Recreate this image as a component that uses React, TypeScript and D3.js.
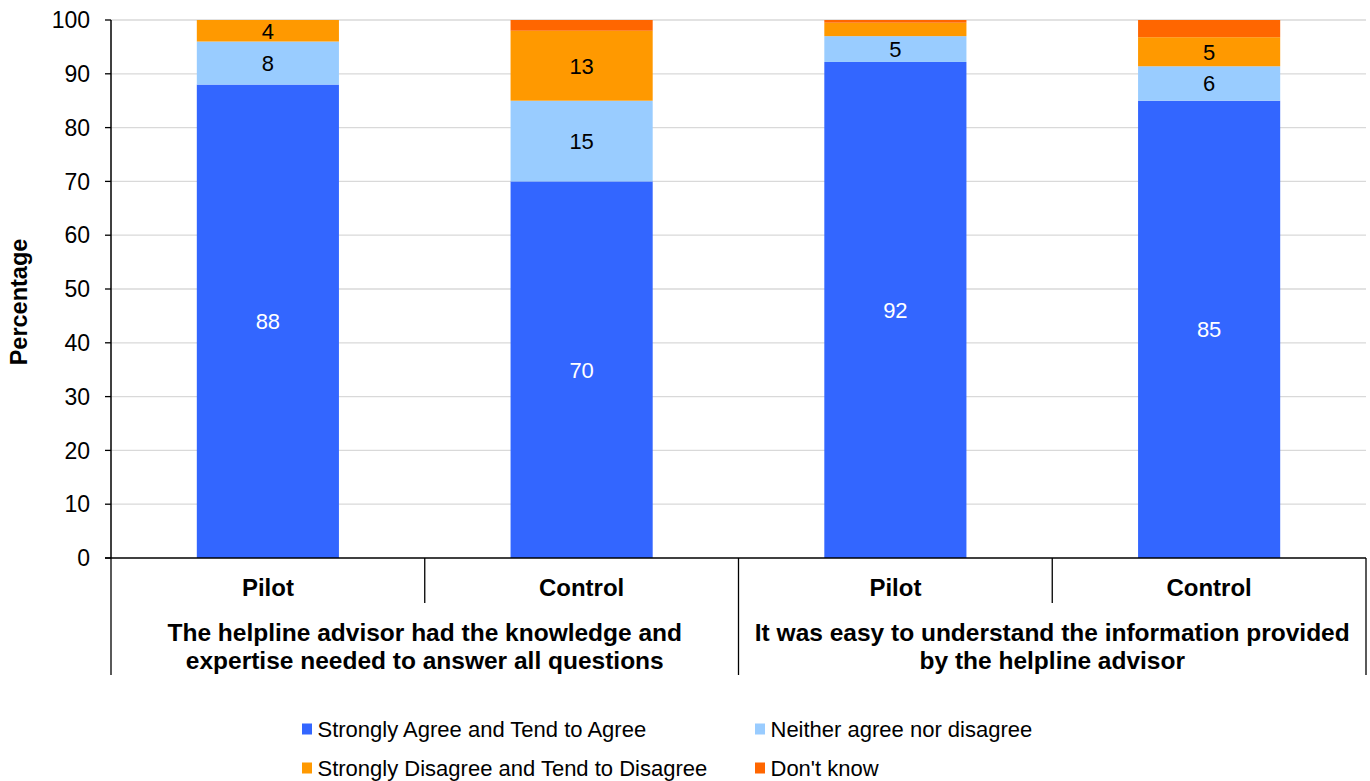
import React from "react";
import * as d3 from "d3";

const seriesNames = [
  "Strongly Agree and Tend to Agree",
  "Neither agree nor disagree",
  "Strongly Disagree and Tend to Disagree",
  "Don't know",
];
const seriesColors = ["#3366FF", "#99CCFF", "#FF9900", "#FF6600"];
const bars = ["Pilot", "Control", "Pilot", "Control"];
const groups = [
  ["The helpline advisor had the knowledge and", "expertise needed to answer all questions"],
  ["It was easy to understand the information provided", "by the helpline advisor"],
];
const agree = [88, 70, 92.2, 85];
const neither = [8, 15, 4.8, 6.4];
const disagree = [4, 13, 2.5, 5.4];
const dontKnow = [0, 2, 0.5, 3.2];
const yTicks = [0, 10, 20, 30, 40, 50, 60, 70, 80, 90, 100];

const W = 1370;
const H = 781;
const left = 111;
const right = 1366;
const top = 20;
const bottom = 558;
const font = "'Liberation Sans', Arial, sans-serif";

export default function App() {
  const series = [agree, neither, disagree, dontKnow];
  const y = d3.scaleLinear().domain([0, 100]).range([bottom, top]);
  const x = d3
    .scaleBand<number>()
    .domain(bars.map((_, i) => i))
    .range([left, right])
    .paddingInner(0.547)
    .paddingOuter(0.2735);
  const step = x.step();
  const rows = bars.map((_, i) => {
    const r: any = { idx: i };
    series.forEach((s, k) => (r["s" + k] = s[i]));
    return r;
  });
  const stack = d3.stack<any>().keys(series.map((_, k) => "s" + k))(rows);

  return (
    <div style={{ position: "absolute", left: 0, top: 0 }}>
      <svg width={W} height={H} style={{ display: "block", fontFamily: font }}>
        {yTicks.map((t) => (
          <g key={t}>
            {t > 0 && (
              <line x1={left} x2={right} y1={y(t)} y2={y(t)} stroke="#D9D9D9" strokeWidth={1.3} />
            )}
            <line x1={left - 6} x2={left} y1={y(t)} y2={y(t)} stroke="#000" strokeWidth={1.3} />
            <text x={90} y={y(t)} dy="0.36em" textAnchor="end" fontSize={23} fill="#000">
              {t}
            </text>
          </g>
        ))}
        {stack.map((layer, k) =>
          layer.map((d, i) => {
            const v = d[1] - d[0];
            if (v <= 0) return null;
            const bx = x(i)!;
            const y0 = y(d[0]);
            const y1 = y(d[1]);
            return (
              <g key={k + "-" + i}>
                <rect x={bx} y={y1} width={x.bandwidth()} height={y0 - y1} fill={seriesColors[k]} />
                {v >= 3.5 && (
                  <text
                    x={bx + x.bandwidth() / 2}
                    y={(y0 + y1) / 2}
                    dy="0.36em"
                    textAnchor="middle"
                    fontSize={22}
                    fill={k === 0 ? "#fff" : "#000"}
                  >
                    {Math.round(v)}
                  </text>
                )}
              </g>
            );
          })
        )}
        <line x1={left} x2={left} y1={top} y2={bottom} stroke="#000" strokeWidth={1.5} />
        <line x1={left - 6} x2={right} y1={bottom} y2={bottom} stroke="#000" strokeWidth={1.5} />
        {[0, 1, 2, 3, 4].map((j) => {
          const xx = left + j * step;
          const long = j % 2 === 0;
          return (
            <line
              key={"sep" + j}
              x1={xx}
              x2={xx}
              y1={bottom}
              y2={long ? 675 : 603}
              stroke="#000"
              strokeWidth={1.3}
            />
          );
        })}
        {bars.map((b, i) => (
          <text
            key={"b" + i}
            x={x(i)! + x.bandwidth() / 2}
            y={587}
            dy="0.36em"
            textAnchor="middle"
            fontSize={24}
            fontWeight="bold"
          >
            {b}
          </text>
        ))}
        {groups.map((g, gi) =>
          g.map((line, li) => (
            <text
              key={"g" + gi + li}
              x={left + (gi * 2 + 1) * step}
              y={632 + li * 28}
              dy="0.36em"
              textAnchor="middle"
              fontSize={24.5}
              fontWeight="bold"
            >
              {line}
            </text>
          ))
        )}
        <text
          transform={`translate(27,302) rotate(-90)`}
          textAnchor="middle"
          fontSize={23.5}
          fontWeight="bold"
        >
          Percentage
        </text>
        {seriesNames.map((n, k) => {
          const lx = k % 2 === 0 ? 302 : 755;
          const ly = k < 2 ? 729 : 768;
          return (
            <g key={"l" + k}>
              <rect x={lx} y={ly - 5.5} width={10} height={11} fill={seriesColors[k]} />
              <text x={lx + 15.5} y={ly} dy="0.36em" fontSize={22} fill="#000">
                {n}
              </text>
            </g>
          );
        })}
      </svg>
    </div>
  );
}
